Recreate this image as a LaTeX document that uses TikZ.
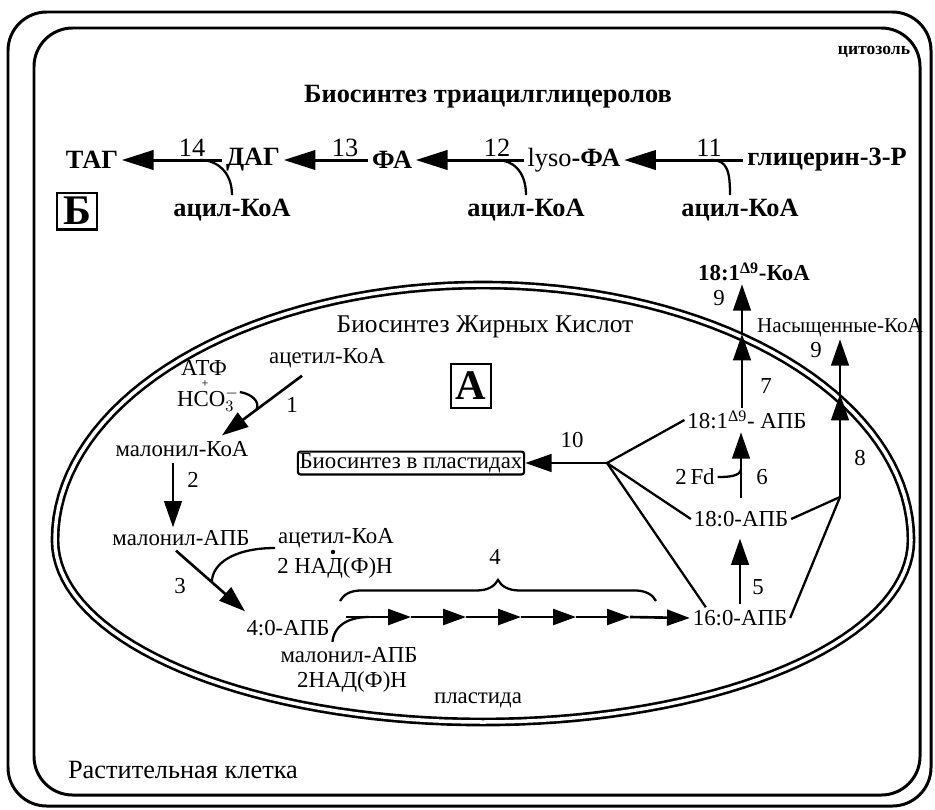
\documentclass[tikz,border=0pt]{standalone}
\usepackage{fontspec}
\setmainfont{Liberation Serif}
\usetikzlibrary{positioning,arrows.meta,calc,decorations.pathreplacing}

\tikzset{
  lbl/.style={font=\fontsize{13}{15}\selectfont, inner sep=1.5pt},
  toplbl/.style={font=\fontsize{15}{17}\selectfont\bfseries, inner sep=2pt},
  num/.style={font=\fontsize{13}{15}\selectfont, inner sep=0pt},
  topnum/.style={font=\fontsize{15}{17}\selectfont, inner sep=0pt},
  rxn/.style={line width=1.5pt, -{Triangle[length=15pt,width=10pt]}},
  rxntop/.style={line width=1.7pt, -{Triangle[length=18pt,width=11pt]}},
  rxnchain/.style={line width=1.5pt, -{Triangle[length=13pt,width=9pt]}},
  branch/.style={line width=1.3pt},
  hook/.style={line width=1.3pt},
  frame/.style={line width=1.7pt, rounded corners=22pt},
  membrane/.style={line width=1.5pt, double distance=2pt},
  letterbox/.style={draw, line width=1.2pt, inner sep=0pt, font=\fontsize{24}{24}\selectfont\bfseries}
}

\begin{document}
\begin{tikzpicture}[x=0.02cm, y=-0.02cm]
\useasboundingbox (0,0) rectangle (935,809);

\draw[frame] (8,12) rectangle (931,806);
\draw[frame] (34,28) rectangle (920,795);

\node[font=\fontsize{10}{12}\selectfont\bfseries] (cyto) at (874,52) {цитозоль};
\node[font=\fontsize{15}{17}\selectfont\bfseries] (tgtitle) at (488,97) {Биосинтез триацилглицеролов};

\node[toplbl] (tag) at (92,160) {ТАГ};
\node[toplbl] (dag) at (253,160) {ДАГ};
\node[toplbl] (fa) at (392,160) {ФА};
\node[toplbl] (lyso) at (574,160) {{\mdseries lyso}-ФА};
\node[toplbl] (glyc) at (827,160) {глицерин-3-Р};
\node[toplbl] (acyl14) at (232,210) {ацил-КоА};
\node[toplbl] (acyl12) at (526,210) {ацил-КоА};
\node[toplbl] (acyl11) at (740,210) {ацил-КоА};

\draw[rxntop] (dag) -- (tag);
\draw[rxntop] (fa) -- (dag);
\draw[rxntop] (lyso) -- (fa);
\draw[rxntop] (glyc) -- (lyso);

\node[topnum] (n14) at (192,148) {14};
\node[topnum] (n13) at (345,148) {13};
\node[topnum] (n12) at (497,148) {12};
\node[topnum] (n11) at (709,148) {11};

\draw[hook] (acyl14.north) .. controls +(0,-24) and +(16,0) .. ($(dag.west)!0.22!(tag.east)$);
\draw[hook] (acyl12.north) .. controls +(0,-24) and +(16,0) .. ($(lyso.west)!0.25!(fa.east)$);
\draw[hook] ($(acyl11.north)+(-10,0)$) .. controls +(0,-24) and +(16,0) .. ($(glyc.west)!0.27!(lyso.east)$);

\node[letterbox, minimum width=23pt, minimum height=21pt] (bbox) at (77,211) {Б};

\draw[membrane] plot[domain=0:357.5, samples=144, variable=\t]
  ({483+428*cos(\t)}, {540+255*min(sin(\t),0)+182*max(sin(\t),0)}) -- cycle;

\node[font=\fontsize{14.5}{16}\selectfont] (fattitle) at (485,327) {Биосинтез Жирных Кислот};
\node[letterbox, minimum width=23pt, minimum height=25pt] (abox) at (471,386) {А};

\node[lbl] (acoa1) at (327,358) {ацетил-КоА};
\node[lbl] (atf) at (204,368) {АТФ};
\node[font=\fontsize{7}{7}\selectfont, inner sep=0pt] (plus1) at (205,384) {+};
\node[lbl] (hco) at (208,400) {HCO$_3^-$};
\node[lbl] (malkoa) at (182,449) {малонил-КоА};

\coordinate (a1s) at ($(acoa1.south)+(-25,5)$);
\coordinate (a1e) at ($(malkoa.north)+(40,-3)$);
\draw[rxn] (a1s) -- (a1e);
\draw[hook] ($(hco.east)+(-2,-8)$) .. controls +(12,2) and +(4,-8) .. ($(a1s)!0.57!(a1e)$);
\node[num] (n1) at (292,405) {1};

\node[lbl] (malapb) at (181,538) {малонил-АПБ};
\draw[rxn] ($(malkoa.south)+(-9,3)$) -- ($(malapb.north)+(-8,0)$);
\node[num] (n2) at (193,480) {2};

\node[lbl] (acoa2) at (336,538) {ацетил-КоА};
\node[circle, fill, inner sep=0.9pt] (dot2) at (333,552) {};
\node[lbl] (nadph1) at (335,568) {2 НАД(Ф)Н};
\node[lbl] (c40) at (288,628) {4:0-АПБ};

\coordinate (a3s) at ($(malapb.south)+(-5,2)$);
\coordinate (a3e) at ($(c40.north)+(-43,-6)$);
\draw[rxn] (a3s) -- (a3e);
\draw[hook] ($(acoa2.west)+(0,10)$) .. controls +(-42,0) and +(0,-18) .. ($(a3s)!0.52!(a3e)$);
\node[num] (n3) at (180,586) {3};

\node[lbl] (c16) at (740,618) {16:0-АПБ};
\coordinate (ch0) at (346,617);
\foreach \i/\x in {1/411,2/466,3/521,4/576,5/630}
  \coordinate (ch\i) at (\x,617);
\foreach \a/\b in {0/1,1/2,2/3,3/4,4/5}
  \draw[rxnchain] (ch\a) -- (ch\b);
\draw[rxnchain] (ch5) -- (c16.west);
\draw[hook] ($(c40.east)+(0,14)$) .. controls +(2,-20) and +(-15,0) .. ($(ch0)!0.35!(ch1)$);

\coordinate (brL) at (340,601);
\coordinate (brR) at (656,601);
\draw[decorate, decoration={brace, amplitude=12pt}, line width=1.3pt] (brL) -- (brR);
\node[num] (n4) at (495,557) {4};

\node[lbl] (malapb2) at (349,655) {малонил-АПБ};
\node[lbl] (nadph2) at (352,682) {2НАД(Ф)Н};
\node[lbl] (plastida) at (478,700) {пластида};
\node[font=\fontsize{15}{17}\selectfont] (cell) at (183,770) {Растительная клетка};

\node[lbl] (c18) at (741,519) {18:0-АПБ};
\node[lbl] (c181) at (747,420) {18:1\textsuperscript{Δ9}- АПБ};
\node[lbl, font=\fontsize{13}{15}\selectfont\bfseries] (koa181) at (754,272) {18:1\textsuperscript{Δ9}-КоА};
\node[font=\fontsize{12}{14}\selectfont, inner sep=1pt] (nas) at (840,328) {Насыщенные-КоА};
\node[draw, line width=1.2pt, rounded corners=1.5pt, inner sep=1pt, font=\fontsize{13}{15}\selectfont] (bip) at (411,463) {Биосинтез в пластидах};

\draw[rxn, shorten <=2pt, shorten >=5pt] (c16.north) -- (c16.north |- c18.south);
\node[num] (n5) at (758,587) {5};

\coordinate (a6s) at ($(c18.north)+(0,-10)$);
\coordinate (a6e) at (c18.north |- c181.south);
\draw[rxn] (a6s) -- (a6e);
\node[lbl] (fd) at (695,477) {2\,Fd};
\draw[hook] (fd.east) .. controls +(10,0) and +(0,8) .. ($(a6s)!0.45!(a6e)$);
\node[num] (n6) at (762,477) {6};

\coordinate (m7) at (742,334);
\draw[rxn] (c181.north -| m7) -- (m7);
\draw[rxn] (m7) -- (koa181.south -| m7);
\node[num] (n7) at (766,386) {7};
\node[num] (n9a) at (719,298) {9};

\coordinate (j2) at (840,497);
\coordinate (m8) at (840,394);
\draw[branch] (c18.east) -- (j2);
\draw[branch] (c16.east) -- (j2);
\draw[rxn] (j2) -- (m8);
\draw[rxn] (m8) -- (nas.south -| m8);
\node[num] (n8) at (860,458) {8};
\node[num] (n9b) at (816,350) {9};

\coordinate (j1) at (607,463);
\draw[branch] (c181.west) -- (j1);
\draw[branch] (c18.west) -- (j1);
\draw[branch] ($(c16.north west)+(16,0)$) -- (j1);
\draw[rxn] (j1) -- (bip.east);
\node[num] (n10) at (572,440) {10};

\end{tikzpicture}
\end{document}
